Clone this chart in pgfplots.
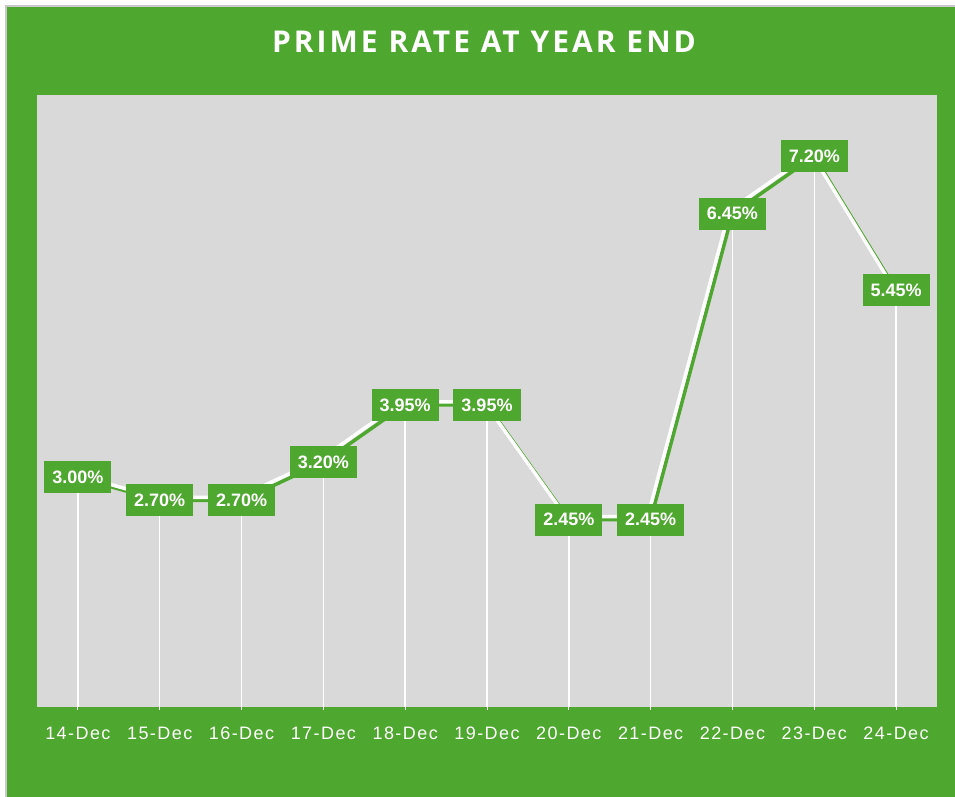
\documentclass[border=0pt]{standalone}
\usepackage{pgfplots}
\pgfplotsset{compat=1.18}
\usepackage{fontspec}
\setmainfont{Liberation Sans}
\newfontfamily\titlefont[LetterSpace=10]{Open Sans}
\newfontfamily\tickfont[LetterSpace=8]{Liberation Sans}
\definecolor{mygreen}{HTML}{4EA72E}
\definecolor{plotgray}{HTML}{D9D9D9}
\definecolor{framegray}{HTML}{C8C8C8}
\begin{document}
\begin{tikzpicture}
\fill[white] (0,0) rectangle (955pt,797pt);
\fill[framegray] (5pt,0) rectangle (955pt,792pt);
\fill[mygreen] (7pt,0) rectangle (955pt,790pt);
\node[white, anchor=base, inner sep=0pt] at (484pt,744pt) {\titlefont\bfseries\fontsize{30}{34}\selectfont PRIME RATE AT YEAR END};
\begin{axis}[
  at={(37pt,90pt)}, anchor=south west,
  width=900pt, height=612pt, scale only axis,
  xmin=-0.5, xmax=10.5, ymin=0, ymax=8,
  axis background/.style={fill=plotgray},
  axis line style={draw=none},
  ytick=\empty,
  xtick={0,...,10},
  xticklabels={14-Dec,15-Dec,16-Dec,17-Dec,18-Dec,19-Dec,20-Dec,21-Dec,22-Dec,23-Dec,24-Dec},
  xtick pos=bottom, tick align=outside, major tick length=3pt,
  tick style={white, line width=1pt},
  xticklabel style={anchor=base, yshift=-30pt, text=white, font=\tickfont\fontsize{18}{20}\selectfont, inner sep=0pt},
  clip=false,
]
\addplot[ycomb, white, line width=1.5pt, no marks] coordinates {
(0,3.00) (1,2.70) (2,2.70) (3,3.20) (4,3.95) (5,3.95) (6,2.45) (7,2.45) (8,6.45) (9,7.20) (10,5.45)};
\addplot[mygreen, line width=3.5pt, no marks] coordinates {
(0,3.00) (1,2.70) (2,2.70) (3,3.20) (4,3.95) (5,3.95) (6,2.45) (7,2.45) (8,6.45) (9,7.20) (10,5.45)};
\addplot[white, line width=3.5pt, no marks, xshift=-3pt, yshift=3pt] coordinates {
(0,3.00) (1,2.70) (2,2.70) (3,3.20) (4,3.95) (5,3.95) (6,2.45) (7,2.45) (8,6.45) (9,7.20) (10,5.45)};
\addplot[draw=none, no marks, point meta=y,
  nodes near coords={\pgfmathprintnumber[fixed,fixed zerofill,precision=2,assume math mode=true]{\pgfplotspointmeta}\%},
  nodes near coords style={anchor=center, fill=mygreen, text=white, font=\bfseries\fontsize{18}{20}\selectfont, inner xsep=8pt, inner ysep=0pt, minimum height=32pt}
] coordinates {
(0,3.00) (1,2.70) (2,2.70) (3,3.20) (4,3.95) (5,3.95) (6,2.45) (7,2.45) (8,6.45) (9,7.20) (10,5.45)};
\end{axis}
\end{tikzpicture}
\end{document}
